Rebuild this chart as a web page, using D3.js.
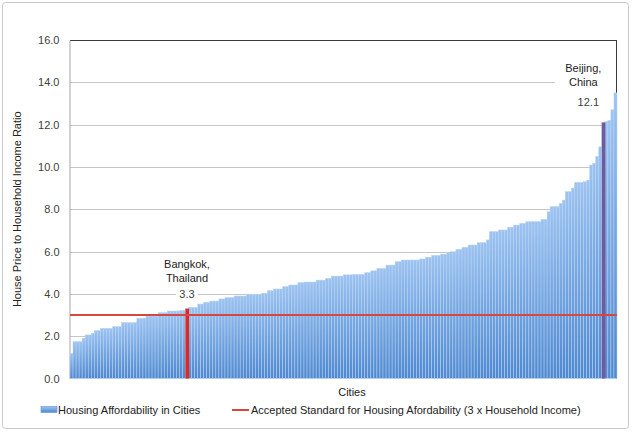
<!DOCTYPE html>
<html>
<head>
<meta charset="utf-8">
<script src="https://cdn.jsdelivr.net/npm/d3@7"></script>
<style>
  html, body { margin: 0; padding: 0; background: #fff; }
  svg { display: block; font-family: "Liberation Sans", Arial, sans-serif; }
</style>
</head>
<body>
<svg id="chart" width="632" height="432"></svg>
<script>
// ---- data ----
const values = [
  1.19, 1.74, 1.74, 1.74, 1.90, 2.06, 2.06, 2.14, 2.26, 2.26,
  2.37, 2.37, 2.37, 2.37, 2.45, 2.45, 2.45, 2.64, 2.64, 2.64,
  2.64, 2.64, 2.85, 2.85, 2.85, 2.95, 2.95, 2.95, 2.95, 3.11,
  3.11, 3.11, 3.19, 3.19, 3.19, 3.19, 3.22, 3.22, 3.30, 3.36,
  3.36, 3.36, 3.52, 3.52, 3.60, 3.60, 3.66, 3.66, 3.66, 3.76,
  3.76, 3.82, 3.82, 3.82, 3.90, 3.90, 3.90, 3.90, 3.98, 3.98,
  3.98, 3.98, 3.98, 4.03, 4.03, 4.15, 4.15, 4.23, 4.23, 4.23,
  4.34, 4.34, 4.42, 4.42, 4.42, 4.53, 4.53, 4.56, 4.56, 4.56,
  4.56, 4.65, 4.65, 4.65, 4.73, 4.73, 4.84, 4.84, 4.84, 4.84,
  4.90, 4.90, 4.90, 4.92, 4.92, 4.92, 4.92, 5.00, 5.00, 5.09,
  5.09, 5.20, 5.20, 5.20, 5.36, 5.36, 5.36, 5.52, 5.52, 5.60,
  5.60, 5.60, 5.60, 5.60, 5.60, 5.65, 5.65, 5.73, 5.73, 5.82,
  5.82, 5.82, 5.88, 5.88, 5.93, 5.99, 5.99, 6.10, 6.10, 6.20,
  6.20, 6.31, 6.31, 6.31, 6.42, 6.42, 6.42, 6.55, 6.94, 6.94,
  6.94, 7.02, 7.02, 7.02, 7.15, 7.15, 7.25, 7.25, 7.33, 7.33,
  7.41, 7.41, 7.41, 7.41, 7.41, 7.52, 7.52, 7.88, 8.12, 8.12,
  8.12, 8.28, 8.43, 8.83, 8.83, 9.00, 9.27, 9.27, 9.27, 9.30,
  9.38, 10.09, 10.17, 10.50, 10.95, 12.10, 12.15, 12.20, 12.70, 13.50
];
const categories = values.map((_, i) => i);
const yTicks = [0, 2, 4, 6, 8, 10, 12, 14, 16];
const standardValue = 3;
const highlightIndex = [38, 175];
const highlightNames = [["Bangkok,", "Thailand"], ["Beijing,", "China"]];
const highlightColors = ["#e8251d", "#6f5a9e"];
const yTitle = "House Price to Household Income Ratio";
const xTitle = "Cities";
const legendLabels = ["Housing Affordability in Cities", "Accepted Standard for Housing Afordability (3 x Household Income)"];

// ---- chart ----
const svg = d3.select("#chart");
const L = 70, R = 617, T = 40, B = 378.5;
const x = d3.scaleBand().domain(categories).range([L, R]).paddingInner(0).paddingOuter(0);
const y = d3.scaleLinear().domain([0, 16]).range([B, T]);

const defs = svg.append("defs");
const g = defs.append("linearGradient").attr("id", "barGrad")
  .attr("x1", 0).attr("y1", 0).attr("x2", 0).attr("y2", 1);
g.append("stop").attr("offset", "0%").attr("stop-color", "#9cc3f1");
g.append("stop").attr("offset", "100%").attr("stop-color", "#4e88cf");

// outer frame
svg.append("rect").attr("x", 2.5).attr("y", 2.5).attr("width", 626).attr("height", 426)
  .attr("rx", 3).attr("fill", "#fff").attr("stroke", "#c9c9c9");

// gridlines
svg.append("g").selectAll("line").data(yTicks.filter(t => t > 0 && t < 16)).join("line")
  .attr("x1", L).attr("x2", R)
  .attr("y1", d => Math.round(y(d)) + 0.5).attr("y2", d => Math.round(y(d)) + 0.5)
  .attr("stroke", "#c6c6c6").attr("stroke-width", 1);

// top and right plot border
svg.append("line").attr("x1", L).attr("x2", R).attr("y1", Math.round(y(16)) + 0.5).attr("y2", Math.round(y(16)) + 0.5)
  .attr("stroke", "#3a3a3a");
svg.append("line").attr("x1", R - 0.5).attr("x2", R - 0.5).attr("y1", y(16)).attr("y2", B)
  .attr("stroke", "#3a3a3a");

// y axis
const yAxis = d3.axisLeft(y).tickValues(yTicks).tickFormat(d => d.toFixed(1)).tickSize(0).tickPadding(10);
const ya = svg.append("g").attr("transform", `translate(${L - 0.5},0)`).call(yAxis);
ya.select(".domain").attr("stroke", "#a6a6a6");
ya.selectAll("text").attr("font-size", 11).attr("fill", "#404040")
  .attr("font-family", "'Liberation Sans', Arial, sans-serif");

// label background boxes (cover gridlines)
// bars
svg.append("g").selectAll("rect").data(categories).join("rect")
  .attr("x", d => x(d)).attr("width", x.bandwidth())
  .attr("y", d => y(values[d])).attr("height", d => y(0) - y(values[d]))
  .attr("fill", "url(#barGrad)").attr("stroke", "#b9d3f3").attr("stroke-width", 0.5);

// highlighted cities
svg.append("g").selectAll("rect").data(highlightIndex).join("rect")
  .attr("x", d => x(d)).attr("width", x.bandwidth() + 0.5)
  .attr("y", d => y(values[d])).attr("height", d => y(0) - y(values[d]))
  .attr("fill", (d, i) => highlightColors[i]);

// standard line
svg.append("line").attr("x1", L).attr("x2", R)
  .attr("y1", y(standardValue)).attr("y2", y(standardValue))
  .attr("stroke", "#d9453f").attr("stroke-width", 2);

// highlight labels
const lab = svg.append("g").attr("font-size", 11).attr("fill", "#222");
// Bangkok
{
  const i = highlightIndex[0], cx = x(i) + x.bandwidth() / 2;
  lab.append("text").attr("x", cx).attr("y", 268).attr("text-anchor", "middle").text(highlightNames[0][0]);
  lab.append("text").attr("x", cx).attr("y", 282).attr("text-anchor", "middle").text(highlightNames[0][1]);
  const vy = y(4);
  lab.append("rect").attr("x", cx - 11).attr("y", vy - 7).attr("width", 22).attr("height", 14).attr("fill", "#fff");
  lab.append("text").attr("x", cx).attr("y", vy + 4).attr("text-anchor", "middle").attr("fill", "#404040")
    .text(values[i].toFixed(1));
}
// Beijing
{
  const i = highlightIndex[1], cx = x(i) + x.bandwidth() / 2;
  lab.append("rect").attr("x", 555).attr("y", y(14) - 8).attr("width", R - 1 - 555).attr("height", 16).attr("fill", "#fff");
  lab.append("text").attr("x", cx - 20).attr("y", 72).attr("text-anchor", "middle").text(highlightNames[1][0]);
  lab.append("text").attr("x", cx - 20).attr("y", 86).attr("text-anchor", "middle").text(highlightNames[1][1]);
  lab.append("text").attr("x", cx - 15).attr("y", 106).attr("text-anchor", "middle").attr("fill", "#404040")
    .text(values[i].toFixed(1));
}

// axis titles
svg.append("text").attr("transform", `translate(21,${(T + B) / 2}) rotate(-90)`)
  .attr("text-anchor", "middle").attr("font-size", 11).attr("fill", "#222").text(yTitle);
svg.append("text").attr("x", 352).attr("y", 396).attr("text-anchor", "middle")
  .attr("font-size", 11).attr("fill", "#222").text(xTitle);

// legend
const lg = svg.append("g").attr("font-size", 11).attr("fill", "#222");
lg.append("rect").attr("x", 41).attr("y", 406.5).attr("width", 16).attr("height", 6)
  .attr("fill", "url(#barGrad)").attr("stroke", "#6f9fd9").attr("stroke-width", 0.7);
lg.append("text").attr("x", 58).attr("y", 414).text(legendLabels[0]);
lg.append("line").attr("x1", 232).attr("x2", 249).attr("y1", 410).attr("y2", 410)
  .attr("stroke", "#d9453f").attr("stroke-width", 2);
lg.append("text").attr("x", 251).attr("y", 414).text(legendLabels[1]);
</script>
</body>
</html>
